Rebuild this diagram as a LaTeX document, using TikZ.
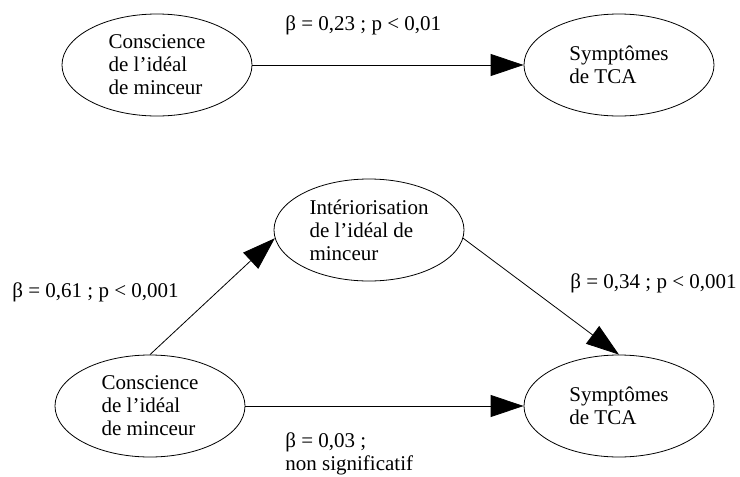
\documentclass[tikz,border=0pt]{standalone}
\usepackage{fontspec}
\setmainfont{Liberation Serif}
\usetikzlibrary{shapes.geometric,arrows.meta,positioning}
\tikzset
{
    concept/.style = {ellipse, draw=black, align=left, minimum width=190pt, minimum height=102pt, inner sep=2pt, font=\fontsize{21}{23}\selectfont},
    coeff/.style   = {anchor=base west, align=left, inner sep=0pt, font=\fontsize{21}{23}\selectfont}
}

\begin{document}
\begin{tikzpicture}
    [->,>={Triangle[length=33pt,width=22pt]},x=1pt,y=1pt,line width=0.8pt]
    \useasboundingbox (0,0) rectangle (740,-477);
    % direct effect
    \node [concept] (consA) at (157,-65) {Conscience\\de l’idéal\\de minceur};
    \node [concept] (sympA) at (619,-65) {Symptômes\\de TCA};
    \draw (consA) -- (sympA);
    \node [coeff] (betaA) at (285,-30) {β = 0,23 ; p < 0,01};
    % mediation
    \node [concept] (inter) at (369,-230) {Intériorisation\\de l’idéal de\\minceur};
    \node [concept] (consB) at (150,-406) {Conscience\\de l’idéal\\de minceur};
    \node [concept] (sympB) at (619,-406) {Symptômes\\de TCA};
    \draw (consB.north) -- (inter.185);
    \draw (inter.355) -- (sympB.north);
    \draw (consB) -- (sympB);
    \node [coeff] (betaB) at (12,-297) {β = 0,61 ; p < 0,001};
    \node [coeff] (betaC) at (570,-288) {β = 0,34 ; p < 0,001};
    \node [coeff, anchor=north west] (betaD) at (285,-432) {β = 0,03 ;\\non significatif};
\end{tikzpicture}
\end{document}
